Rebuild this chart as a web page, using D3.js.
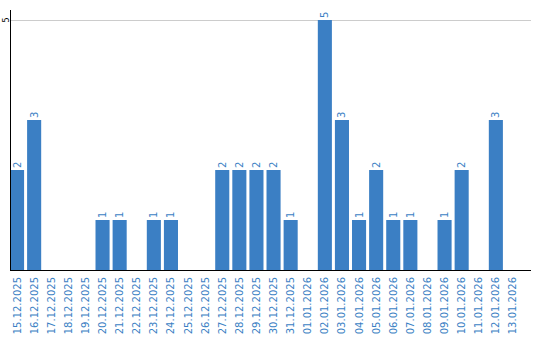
<!DOCTYPE html>
<html>
<head>
<meta charset="utf-8">
<script src="https://cdn.jsdelivr.net/npm/d3@7"></script>
<style>
body { margin: 0; background: #fff; }
text { font-family: "DejaVu Sans", Verdana, sans-serif; font-size: 10px; }
</style>
</head>
<body>
<script>
const days = ['15.12.2025', '16.12.2025', '17.12.2025', '18.12.2025', '19.12.2025', '20.12.2025',
	'21.12.2025', '22.12.2025', '23.12.2025', '24.12.2025', '25.12.2025', '26.12.2025',
	'27.12.2025', '28.12.2025', '29.12.2025', '30.12.2025', '31.12.2025', '01.01.2026',
	'02.01.2026', '03.01.2026', '04.01.2026', '05.01.2026', '06.01.2026', '07.01.2026',
	'08.01.2026', '09.01.2026', '10.01.2026', '11.01.2026', '12.01.2026', '13.01.2026'];
const counts = [2, 3, 0, 0, 0, 1, 1, 0, 1, 1, 0, 0, 2, 2, 2, 2, 1, 0, 5, 3, 1, 2, 1, 1, 0, 1, 2, 0, 3, 0];
const yTicks = [5];

const w = 540, h = 340;
const mLeft = 10, mRight = 531, mTop = 20, mBottom = 270;
const blue = '#3b7fc4';

const svg = d3.select('body').append('svg')
	.attr('width', w)
	.attr('height', h);

const x = d3.scaleBand()
	.domain(days)
	.range([mLeft, mLeft + days.length * 17])
	.paddingInner(3 / 17)
	.paddingOuter(0)
	.align(0);

const y = d3.scaleLinear()
	.domain([0, 5])
	.range([mBottom, mTop]);

const bars = days.map((d, i) => ({ day: d, value: counts[i] }));

// grid line
svg.selectAll('line.grid').data(yTicks).enter()
	.append('line')
	.attr('class', 'grid')
	.attr('x1', mLeft)
	.attr('x2', mRight)
	.attr('y1', d => y(d) + 0.5)
	.attr('y2', d => y(d) + 0.5)
	.attr('stroke', '#cccccc');

// bars
svg.selectAll('rect').data(bars).enter()
	.append('rect')
	.attr('x', d => x(d.day))
	.attr('y', d => y(d.value))
	.attr('width', x.bandwidth())
	.attr('height', d => mBottom - y(d.value))
	.attr('fill', blue);

// value labels
svg.selectAll('text.val').data(bars.filter(d => d.value > 0)).enter()
	.append('text')
	.attr('class', 'val')
	.attr('transform', d => `translate(${x(d.day) + x.bandwidth() / 2 + 3.5},${y(d.value) - 2}) rotate(-90)`)
	.attr('text-anchor', 'start')
	.attr('fill', blue)
	.text(d => d.value);

// y axis
svg.append('line')
	.attr('x1', mLeft + 0.5).attr('x2', mLeft + 0.5)
	.attr('y1', 10).attr('y2', mBottom)
	.attr('stroke', '#000');

svg.selectAll('text.ytick').data(yTicks).enter()
	.append('text')
	.attr('class', 'ytick')
	.attr('transform', d => `translate(8.5,${y(d)}) rotate(-90)`)
	.attr('text-anchor', 'middle')
	.attr('fill', '#000')
	.style('font-size', '8px')
	.text(d => d);

// x axis
svg.append('line')
	.attr('x1', mLeft).attr('x2', mRight)
	.attr('y1', mBottom + 0.5).attr('y2', mBottom + 0.5)
	.attr('stroke', '#000');

svg.selectAll('text.xlab').data(days).enter()
	.append('text')
	.attr('class', 'xlab')
	.attr('transform', d => `translate(${x(d) + x.bandwidth() / 2 + 3.5},277) rotate(-90)`)
	.attr('text-anchor', 'end')
	.attr('fill', blue)
	.text(d => d);
</script>
</body>
</html>
